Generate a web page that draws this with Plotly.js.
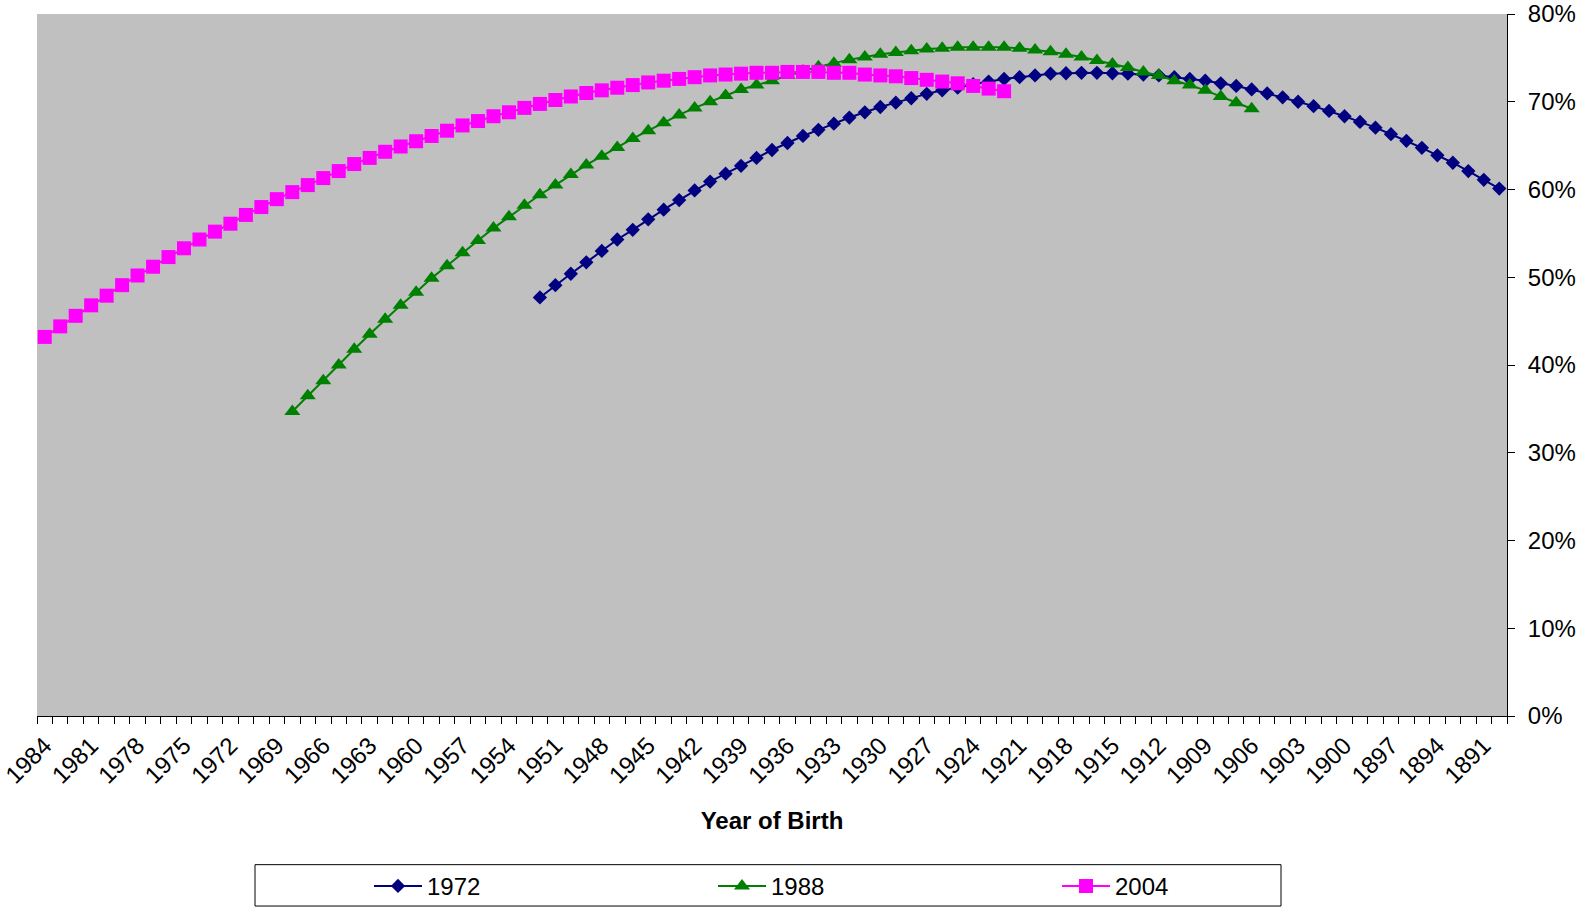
<!DOCTYPE html>
<html>
<head>
<meta charset="utf-8">
<script src="https://cdn.plot.ly/plotly-3.0.1.min.js"></script>
<style>
html,body{margin:0;padding:0;background:#ffffff;}
#chart{width:1579px;height:921px;}
</style>
</head>
<body>
<div id="chart"></div>
<script>
// Year-of-birth categories, left to right (descending)
const categories = [
  "1984","1983","1982","1981","1980","1979","1978","1977","1976","1975",
  "1974","1973","1972","1971","1970","1969","1968","1967","1966","1965",
  "1964","1963","1962","1961","1960","1959","1958","1957","1956","1955",
  "1954","1953","1952","1951","1950","1949","1948","1947","1946","1945",
  "1944","1943","1942","1941","1940","1939","1938","1937","1936","1935",
  "1934","1933","1932","1931","1930","1929","1928","1927","1926","1925",
  "1924","1923","1922","1921","1920","1919","1918","1917","1916","1915",
  "1914","1913","1912","1911","1910","1909","1908","1907","1906","1905",
  "1904","1903","1902","1901","1900","1899","1898","1897","1896","1895",
  "1894","1893","1892","1891","1890"
];

// Labelled ticks on the category axis
const tickLabels = [
  "1984","1981","1978","1975","1972","1969","1966","1963","1960","1957",
  "1954","1951","1948","1945","1942","1939","1936","1933","1930","1927",
  "1924","1921","1918","1915","1912","1909","1906","1903","1900","1897",
  "1894","1891"
];

// Series names and first birth year of each
const seriesNames = ["1972", "1988", "2004"];
const seriesStart = ["1952", "1968", "1984"];

// Values in percent, one per birth year starting at seriesStart
const values1972 = [
  47.7, 49.1, 50.4, 51.7, 53.0, 54.3, 55.4, 56.6, 57.7, 58.8,
  59.9, 60.9, 61.8, 62.7, 63.6, 64.5, 65.3, 66.1, 66.8, 67.5,
  68.2, 68.8, 69.4, 69.9, 70.4, 70.9, 71.3, 71.6, 72.0, 72.3,
  72.6, 72.8, 73.0, 73.2, 73.25, 73.3, 73.3, 73.25, 73.2, 73.1,
  73.0, 72.8, 72.6, 72.4, 72.1, 71.8, 71.4, 70.95, 70.5, 70.0,
  69.5, 68.95, 68.35, 67.7, 67.05, 66.3, 65.55, 64.75, 63.9, 63.05,
  62.1, 61.1, 60.1
];
const values1988 = [
  34.7, 36.5, 38.2, 40.0, 41.8, 43.5, 45.2, 46.8, 48.3, 49.9,
  51.3, 52.8, 54.2, 55.6, 56.9, 58.2, 59.4, 60.5, 61.7, 62.8,
  63.8, 64.8, 65.8, 66.7, 67.6, 68.5, 69.3, 70.0, 70.7, 71.4,
  71.9, 72.4, 73.0, 73.5, 74.0, 74.4, 74.8, 75.1, 75.4, 75.6,
  75.8, 76.0, 76.1, 76.2, 76.2, 76.2, 76.2, 76.1, 75.9, 75.7,
  75.4, 75.1, 74.7, 74.3, 73.9, 73.4, 73.0, 72.4, 71.9, 71.3,
  70.6, 69.9, 69.2
];
const values2004 = [
  43.2, 44.4, 45.6, 46.8, 47.9, 49.1, 50.2, 51.2, 52.3, 53.3,
  54.3, 55.2, 56.1, 57.1, 58.0, 58.9, 59.7, 60.5, 61.3, 62.1,
  62.9, 63.6, 64.3, 64.9, 65.5, 66.1, 66.7, 67.3, 67.8, 68.35,
  68.8, 69.3, 69.75, 70.2, 70.6, 71.0, 71.3, 71.6, 71.9, 72.2,
  72.4, 72.6, 72.8, 73.0, 73.1, 73.2, 73.3, 73.3, 73.4, 73.4,
  73.4, 73.3, 73.3, 73.1, 73.0, 72.9, 72.7, 72.5, 72.3, 72.1,
  71.8, 71.5, 71.2
];

const yTickValues = [0, 10, 20, 30, 40, 50, 60, 70, 80];
const yGridValues = [10, 20, 30, 40, 50, 60, 70];

function xFor(start, vals) {
  const i0 = categories.indexOf(start);
  return categories.slice(i0, i0 + vals.length);
}

const styles = [
  {color: "#000080", symbol: "diamond", size: 11},
  {color: "#008000", symbol: "triangle-up", size: 14},
  {color: "#FF00FF", symbol: "square", size: 14}
];
const allValues = [values1972, values1988, values2004];

const traces = allValues.map((vals, k) => ({
  type: "scatter",
  mode: "lines+markers",
  name: seriesNames[k],
  x: xFor(seriesStart[k], vals),
  y: vals,
  line: {color: styles[k].color, width: 2},
  marker: {color: styles[k].color, symbol: styles[k].symbol, size: styles[k].size, line: {width: 0}},
  hoverinfo: "x+y+name"
}));

const W = 1579, H = 921;
const L = 37, R = 72, T = 14, B = 194;
const pw = W - L - R, ph = H - T - B;
const px2paperX = p => (p - L) / pw;
const px2paperY = p => (H - B - p) / ph;
const FONT = "Liberation Sans, Arial, sans-serif";

const layout = {
  width: W, height: H,
  margin: {l: L, r: R, t: T, b: B, pad: 0},
  paper_bgcolor: "#ffffff",
  plot_bgcolor: "#c0c0c0",
  font: {family: FONT, size: 24, color: "#000000"},
  showlegend: true,
  legend: {
    orientation: "h",
    x: px2paperX(369), xanchor: "left",
    y: px2paperY(900), yanchor: "middle",
    itemwidth: 48,
    entrywidth: 281, entrywidthmode: "pixels",
    bgcolor: "rgba(0,0,0,0)", borderwidth: 0,
    font: {size: 24, color: "#000000"},
    traceorder: "normal"
  },
  xaxis: {
    type: "category",
    categoryorder: "array",
    categoryarray: categories,
    range: [-0.5, categories.length - 0.5],
    tickmode: "array",
    tickvals: categories,
    ticktext: categories.map(c => tickLabels.includes(c) ? c : ""),
    tickson: "boundaries",
    ticks: "outside", ticklen: 7, tickwidth: 1, tickcolor: "#000000",
    tickangle: -45,
    ticklabelstandoff: 5,
    tickfont: {size: 24},
    showline: true, linecolor: "#000000", linewidth: 1,
    showgrid: false, zeroline: false,
    automargin: false, fixedrange: true,
    title: {text: "<b>Year of Birth</b>", font: {size: 24}, standoff: 24}
  },
  yaxis: {
    side: "right",
    range: [0, 80],
    tickmode: "array",
    tickvals: yTickValues,
    ticktext: yTickValues.map(v => v + "%"),
    ticks: "outside", ticklen: 7, tickwidth: 1, tickcolor: "#000000",
    ticklabelstandoff: 8,
    tickfont: {size: 24},
    showline: true, linecolor: "#000000", linewidth: 1,
    showgrid: false,
    zeroline: false, automargin: false, fixedrange: true
  },
  yaxis2: {
    overlaying: "y", anchor: "x", side: "right",
    range: [0, 80],
    tickmode: "array",
    tickvals: yGridValues,
    showticklabels: false, ticks: "",
    showline: false,
    showgrid: true, gridcolor: "#000000", gridwidth: 1,
    zeroline: false, automargin: false, fixedrange: true
  },
  shapes: [{
    type: "rect", xref: "paper", yref: "paper",
    x0: px2paperX(255), x1: px2paperX(1281),
    y0: px2paperY(920), y1: px2paperY(878),
    line: {color: "#000000", width: 1},
    fillcolor: "rgba(0,0,0,0)", layer: "below"
  }]
};

Plotly.newPlot("chart", traces, layout, {displayModeBar: false});
</script>
</body>
</html>
